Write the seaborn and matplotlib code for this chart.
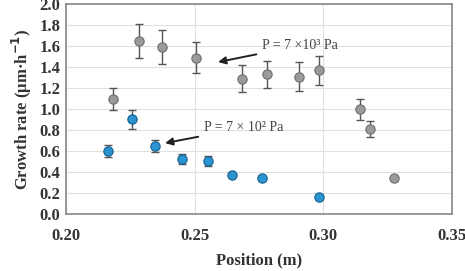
import numpy as np
import pandas as pd
import matplotlib
matplotlib.use("Agg")
import matplotlib.pyplot as plt
import seaborn as sns

# Data: P = 7x10^3 Pa (gray) and P = 7x10^2 Pa (blue)
pos_high = [0.2183, 0.2284, 0.2374, 0.2506, 0.2685, 0.2782, 0.2906, 0.2984, 0.3144, 0.3183, 0.3276]
rate_high = [1.10, 1.65, 1.59, 1.49, 1.29, 1.33, 1.31, 1.37, 1.00, 0.81, 0.34]
err_high = [0.105, 0.16, 0.16, 0.15, 0.13, 0.13, 0.135, 0.14, 0.10, 0.077, 0.02]

pos_low = [0.2163, 0.2257, 0.2346, 0.2451, 0.2553, 0.2646, 0.2763, 0.2984]
rate_low = [0.60, 0.905, 0.65, 0.525, 0.505, 0.37, 0.345, 0.165]
err_low = [0.055, 0.09, 0.06, 0.045, 0.05, 0.015, 0.01, 0.0]

x_ticks = [0.20, 0.25, 0.30, 0.35]
y_ticks = [0.0, 0.2, 0.4, 0.6, 0.8, 1.0, 1.2, 1.4, 1.6, 1.8, 2.0]

sns.set_style("whitegrid")
plt.rcParams['font.family'] = ['Liberation Serif', 'DejaVu Serif']

df_high = pd.DataFrame({"pos": pos_high, "rate": rate_high})
df_low = pd.DataFrame({"pos": pos_low, "rate": rate_low})

fig = plt.figure(figsize=(4.65, 2.71), dpi=100)
ax = fig.add_axes([0.142, 0.21, 0.83, 0.775])

# error bars
ax.errorbar(pos_high, rate_high, yerr=err_high, fmt="none", ecolor="#555555",
            elinewidth=1.0, capsize=3, capthick=1.0, zorder=2)
ax.errorbar(pos_low, rate_low, yerr=err_low, fmt="none", ecolor="#555555",
            elinewidth=1.0, capsize=3, capthick=1.0, zorder=2)

sns.scatterplot(data=df_high, x="pos", y="rate", ax=ax, s=45, color="#9a9a9a",
                edgecolor="#6e6e6e", linewidth=0.8, zorder=3)
sns.scatterplot(data=df_low, x="pos", y="rate", ax=ax, s=45, color="#2a93d0",
                edgecolor="#15608f", linewidth=0.8, zorder=3)

ax.set_xlim(0.20, 0.35)
ax.set_ylim(0.0, 2.0)
ax.set_xticks(x_ticks)
ax.set_yticks(y_ticks)
ax.set_xticklabels([f"{v:.2f}" for v in x_ticks], fontsize=12, fontweight="bold", color="#333333")
ax.set_yticklabels([f"{v:.1f}" for v in y_ticks], fontsize=12, fontweight="bold", color="#333333")
ax.tick_params(axis="x", pad=10, length=0)
ax.tick_params(axis="y", pad=4, length=0)

ax.set_xlabel("Position (m)", fontsize=12, fontweight="bold", color="#333333", labelpad=6)
ax.set_ylabel("Growth rate (μm·h$^{\\mathbf{-1}}$)", fontsize=12, fontweight="bold", color="#333333", labelpad=4)

ax.grid(True, color="#e0e0e0", linewidth=0.8)
for s in ax.spines.values():
    s.set_visible(True)
    s.set_color("#888888")
    s.set_linewidth(1.2)

# annotations
ax.annotate("P = 7 ×10³ Pa", xy=(0.2591, 1.448), xytext=(0.2763, 1.605),
            fontsize=10, color="#444444", va="center", ha="left",
            arrowprops=dict(arrowstyle="-|>", color="#222222", lw=1.4,
                            shrinkA=2, shrinkB=0, mutation_scale=11))
ax.annotate("P = 7 × 10² Pa", xy=(0.2385, 0.676), xytext=(0.2537, 0.82),
            fontsize=10, color="#444444", va="center", ha="left",
            arrowprops=dict(arrowstyle="-|>", color="#222222", lw=1.4,
                            shrinkA=2, shrinkB=0, mutation_scale=11))

fig.savefig("out.png", dpi=100)
